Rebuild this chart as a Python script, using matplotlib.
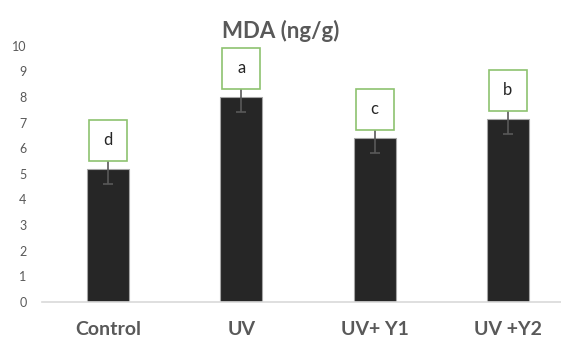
import matplotlib.pyplot as plt
from matplotlib.patches import Rectangle
import numpy as np

# Data
groups = ['Control', 'UV', 'UV+ Y1', 'UV +Y2']
mda = [5.2, 8.0, 6.4, 7.15]
err = [0.6, 0.6, 0.6, 0.6]
letters = ['d', 'a', 'c', 'b']

plt.rcParams['font.family'] = ['Lato', 'DejaVu Sans']
grey = '#595959'

fig = plt.figure(figsize=(5.61, 3.4), dpi=100)
ax = fig.add_axes([0.0743, 0.1118, 0.9257, 0.7538])

x = np.arange(len(groups))
ax.bar(x, mda, width=0.315, color='#262626', edgecolor='#a6a6a6',
       linewidth=0.8, zorder=2)
ax.errorbar(x, mda, yerr=err, fmt='none', ecolor=grey, elinewidth=1.2,
            capsize=3.5, capthick=1.2, zorder=3)

# Significance letters in green boxes above each bar
box_w, box_h = 0.286, 1.6
for xi, v, lab in zip(x, mda, letters):
    y0 = v + 0.32
    ax.add_patch(Rectangle((xi - box_w / 2, y0), box_w, box_h,
                           facecolor='white', edgecolor='#8dc26f',
                           linewidth=1.2, zorder=4))
    ax.text(xi, y0 + box_h / 2, lab, ha='center', va='center',
            fontsize=12, color='#262626', zorder=5)

ax.set_xlim(-0.5, 3.4)
ax.set_ylim(0, 10)
ax.set_yticks(range(0, 11))
ax.set_xticks(x)
ax.set_xticklabels(groups, fontsize=14, fontweight='bold', color=grey)
ax.tick_params(axis='y', length=0, pad=11, labelsize=9, labelcolor=grey)
ax.tick_params(axis='x', length=0, pad=14)

for s in ['top', 'right', 'left']:
    ax.spines[s].set_visible(False)
ax.spines['bottom'].set_color('#d9d9d9')
ax.spines['bottom'].set_linewidth(1.2)

fig.text(0.5, 0.91, 'MDA (ng/g)', ha='center', va='center', fontsize=16,
         fontweight='bold', color=grey)

plt.savefig('out.png', dpi=100)
